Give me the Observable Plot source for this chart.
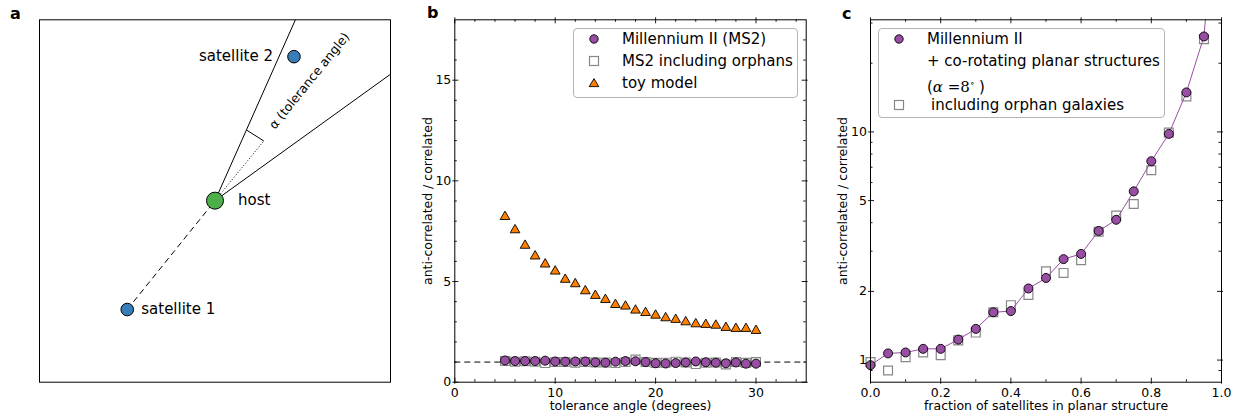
<!DOCTYPE html>
<html><head><meta charset="utf-8">
<script src="https://cdn.jsdelivr.net/npm/d3@7"></script>
<script src="https://cdn.jsdelivr.net/npm/@observablehq/plot@0.6"></script>
<style>
body{margin:0;background:#fff;font-family:"DejaVu Sans",sans-serif;color:#000;}
#wrap{position:relative;width:1242px;height:417px;overflow:hidden;background:#fff;}
.panel{position:absolute;top:0;}
.plabel{position:absolute;font-weight:bold;font-size:16px;line-height:16px;}
.legend{position:absolute;background:rgba(255,255,255,0.85);border:1px solid #b4b4b4;border-radius:4px;box-sizing:border-box;font-size:15px;}
.row{position:absolute;height:22px;line-height:22px;white-space:nowrap;}
.mk{position:absolute;}
</style></head>
<body><div id="wrap"></div>
<script>
// ---------- Panel a: schematic (diagram units) ----------
const hostPos = [5.0, 5.17];
const sat1Pos = [2.5, 2.07];
const sat2Pos = [7.25, 9.27];
const coneEnds = [[7.29, 10.32], [10.0, 8.77]];
const arcEnds = [[5.9, 7.18], [6.39, 6.87]];
const alphaLabelPos = [7.69, 8.58];
const aLabels = ["satellite 1", "satellite 2", "host", "α (tolerance angle)"];

// ---------- Panel b ----------
const angles = [5,6,7,8,9,10,11,12,13,14,15,16,17,18,19,20,21,22,23,24,25,26,27,28,29,30];
const ms2Ratio = [1.08,1.05,1.05,1.05,1.07,1.03,1.02,1.03,1.03,0.99,0.97,1.02,1.05,1.04,1.00,0.94,0.93,0.95,0.98,1.03,0.99,0.97,0.94,0.98,0.92,0.92];
const orphanRatio = [1.05,1.02,1.04,1.02,0.95,1.00,1.00,0.97,1.00,0.98,0.98,0.95,1.00,1.12,1.00,0.96,0.97,1.02,0.98,0.90,0.97,0.98,0.88,1.00,0.96,1.00];
const toyRatio = [8.22,7.56,6.79,6.26,5.86,5.51,5.10,4.88,4.53,4.30,4.10,3.85,3.77,3.57,3.45,3.32,3.19,3.11,2.99,2.89,2.86,2.82,2.71,2.66,2.66,2.56];
const bXMajor = [0,10,20,30];
const bXMinor = [2,4,6,8,12,14,16,18,22,24,26,28,32,34];
const bYMajor = [0,5,10,15];
const bYMinor = [1,2,3,4,6,7,8,9,11,12,13,14,16,17];
const bLegend = ["Millennium II (MS2)", "MS2 including orphans", "toy model"];

// ---------- Panel c ----------
const fractions = [0,0.05,0.1,0.15,0.2,0.25,0.3,0.35,0.4,0.45,0.5,0.55,0.6,0.65,0.7,0.75,0.8,0.85,0.9,0.95];
const planarMS2 = [0.95,1.07,1.08,1.12,1.12,1.23,1.37,1.62,1.64,2.06,2.29,2.77,2.92,3.68,4.12,5.49,7.44,9.80,14.9,26.2];
const planarOrphans = [0.98,0.90,1.03,1.08,1.05,1.22,1.32,1.62,1.74,1.93,2.45,2.41,2.74,3.65,4.30,4.83,6.79,9.93,14.3,25.5];
const curveTailX = 1.0;
const curveTailY = 200;
const cXMajor = [0,0.2,0.4,0.6,0.8,1.0];
const cXMinor = [0.1,0.3,0.5,0.7,0.9];
const cYMajor = [1,2,5,10];
const cYMinor = [0.9,3,4,6,7,8,9,20,30];

const PURPLE = "#984ea3", ORANGE = "#ff7f00", GREEN = "#4daf4a", BLUE = "#377eb8";
const TICKFS = 12.5, LABELFS = 12.5;
const wrap = document.getElementById("wrap");
const baseStyle = {fontFamily: "DejaVu Sans", fontSize: "12.5px", background: "transparent", color: "#000", overflow: "visible"};

function place(el, left) {
  const d = document.createElement("div");
  d.className = "panel"; d.style.left = left + "px";
  d.appendChild(el); wrap.appendChild(d);
}

function tickMarks(xMaj, xMin, yMaj, yMin, W, H) {
  const o = 2, li = 4, mi = 2.5, s = {stroke: "#000", strokeWidth: 0.9};
  return [
    Plot.ruleY(yMaj, {...s, insetLeft: -o, insetRight: W - li}),
    Plot.ruleY(yMaj, {...s, insetLeft: W - li, insetRight: -o}),
    Plot.ruleY(yMin, {...s, insetRight: W - mi}),
    Plot.ruleY(yMin, {...s, insetLeft: W - mi}),
    Plot.ruleX(xMaj, {...s, insetTop: H - li, insetBottom: -o}),
    Plot.ruleX(xMaj, {...s, insetTop: -o, insetBottom: H - li}),
    Plot.ruleX(xMin, {...s, insetTop: H - mi}),
    Plot.ruleX(xMin, {...s, insetBottom: H - mi})
  ];
}

// ---- Panel a ----
const host = {x: hostPos[0], y: hostPos[1]};
const sats = [{x: sat1Pos[0], y: sat1Pos[1], name: aLabels[0]},
              {x: sat2Pos[0], y: sat2Pos[1], name: aLabels[1]}];
const aPlot = Plot.plot({
  width: 400, height: 417, marginLeft: 39, marginRight: 10, marginTop: 19.3, marginBottom: 35.3,
  x: {domain: [0, 10], axis: null}, y: {domain: [0, 10.32], axis: null},
  style: baseStyle,
  marks: [
    Plot.link(coneEnds, {x1: () => host.x, y1: () => host.y, x2: d => d[0], y2: d => d[1], stroke: "#000", strokeWidth: 1}),
    Plot.link([sat1Pos], {x1: d => d[0], y1: d => d[1], x2: () => host.x, y2: () => host.y, stroke: "#000", strokeWidth: 1, strokeDasharray: "6,4"}),
    Plot.link([arcEnds[1]], {x1: () => host.x, y1: () => host.y, x2: d => d[0], y2: d => d[1], stroke: "#000", strokeWidth: 1, strokeDasharray: "1,2"}),
    Plot.link([arcEnds], {x1: d => d[0][0], y1: d => d[0][1], x2: d => d[1][0], y2: d => d[1][1], stroke: "#000", strokeWidth: 1}),
    Plot.dot(sats, {x: "x", y: "y", r: 6.3, fill: BLUE, stroke: "#000", strokeWidth: 1}),
    Plot.dot([host], {x: "x", y: "y", r: 8.5, fill: GREEN, stroke: "#000", strokeWidth: 1}),
    Plot.text([sats[0]], {x: "x", y: "y", text: "name", dx: 14, textAnchor: "start", fontSize: 15}),
    Plot.text([sats[1]], {x: "x", y: "y", text: "name", dx: -21, textAnchor: "end", fontSize: 15}),
    Plot.text([host], {x: "x", y: "y", text: () => aLabels[2], dx: 23, textAnchor: "start", fontSize: 15}),
    Plot.text([alphaLabelPos], {x: d => d[0], y: d => d[1], text: () => aLabels[3], rotate: -51, fontSize: 12.5}),
    Plot.frame({stroke: "#000", strokeWidth: 1})
  ]
});
place(aPlot, 0);

// ---- Panel b ----
const bData = angles.map((a, i) => ({angle: a, ms2: ms2Ratio[i], orph: orphanRatio[i], toy: toyRatio[i]}));
const bW = 351.4, bH = 362.4;
const bPlot = Plot.plot({
  width: 415, height: 417, marginLeft: 54.3, marginRight: 9.3, marginTop: 19.3, marginBottom: 35.3,
  x: {domain: [0, 35]}, y: {domain: [0, 18]},
  style: baseStyle,
  marks: [
    ...tickMarks(bXMajor, bXMinor, bYMajor, bYMinor, bW, bH),
    Plot.ruleY([1], {stroke: "#000", strokeWidth: 1, strokeDasharray: "6,4"}),
    Plot.dot(bData, {x: "angle", y: "orph", symbol: "square", r: 5, fill: "white", stroke: "#888", strokeWidth: 1.2}),
    Plot.dot(bData, {x: "angle", y: "ms2", r: 4.5, fill: PURPLE, stroke: "#000", strokeWidth: 0.9}),
    Plot.dot(bData, {x: "angle", y: "toy", symbol: "triangle", r: 3.6, fill: ORANGE, stroke: "#000", strokeWidth: 0.9}),
    Plot.axisX({ticks: bXMajor, tickSize: 0, tickPadding: 5.5, label: null, fontSize: TICKFS}),
    Plot.axisY({ticks: bYMajor, tickSize: 0, tickPadding: 3.5, label: null, fontSize: TICKFS}),
    Plot.text(["tolerance angle (degrees)"], {text: d => d, frameAnchor: "bottom", dy: 23.5, textAnchor: "middle", lineAnchor: "middle", fontSize: LABELFS}),
    Plot.text(["anti-correlated / correlated"], {text: d => d, frameAnchor: "left", dx: -27, rotate: -90, textAnchor: "middle", lineAnchor: "middle", fontSize: LABELFS}),
    Plot.frame({stroke: "#000", strokeWidth: 1})
  ]
});
place(bPlot, 400);

// ---- Panel c ----
const cData = fractions.map((f, i) => ({f, ms2: planarMS2[i], orph: planarOrphans[i]}));
const cLine = [...cData.map(d => ({f: d.f, v: d.ms2})), {f: curveTailX, v: curveTailY}];
const cW = 351, cH = 362.4;
const cPlot = Plot.plot({
  width: 427, height: 417, marginLeft: 55, marginRight: 21, marginTop: 19.3, marginBottom: 35.3,
  x: {domain: [0, 1]}, y: {type: "log", domain: [0.8, 31]},
  style: baseStyle,
  marks: [
    ...tickMarks(cXMajor, cXMinor, cYMajor, cYMinor, cW, cH),
    Plot.dot(cData, {x: "f", y: "orph", symbol: "square", r: 5, fill: "white", stroke: "#888", strokeWidth: 1.2}),
    Plot.line(cLine, {x: "f", y: "v", stroke: PURPLE, strokeWidth: 1, clip: true}),
    Plot.dot(cData, {x: "f", y: "ms2", r: 4.5, fill: PURPLE, stroke: "#000", strokeWidth: 0.9}),
    Plot.axisX({ticks: cXMajor, tickFormat: d3.format(".1f"), tickSize: 0, tickPadding: 5.5, label: null, fontSize: TICKFS}),
    Plot.axisY({ticks: cYMajor, tickFormat: d => String(d), tickSize: 0, tickPadding: 3.5, label: null, fontSize: TICKFS}),
    Plot.text(["fraction of satellites in planar structure"], {text: d => d, frameAnchor: "bottom", dy: 23.5, textAnchor: "middle", lineAnchor: "middle", fontSize: LABELFS}),
    Plot.text(["anti-correlated / correlated"], {text: d => d, frameAnchor: "left", dx: -28, rotate: -90, textAnchor: "middle", lineAnchor: "middle", fontSize: LABELFS}),
    Plot.frame({stroke: "#000", strokeWidth: 1})
  ]
});
place(cPlot, 815);

// ---- Panel letters ----
[["a", 10, 6], ["b", 427, 5], ["c", 842, 6]].forEach(([t, x, y]) => {
  const d = document.createElement("div");
  d.className = "plabel"; d.textContent = t;
  d.style.left = x + "px"; d.style.top = y + "px";
  wrap.appendChild(d);
});

// ---- Legends ----
function markerSVG(kind) {
  const s = {circle: `<circle cx="7" cy="7" r="4.2" fill="${PURPLE}" stroke="#000" stroke-width="0.9"/>`,
             square: `<rect x="2.5" y="2.5" width="9" height="9" fill="white" stroke="#888" stroke-width="1.2"/>`,
             triangle: `<polygon points="7,2.6 11.8,10.6 2.2,10.6" fill="${ORANGE}" stroke="#000" stroke-width="0.9"/>`}[kind];
  return `<svg width="14" height="14" style="display:block">${s}</svg>`;
}
function legend(left, top, w, h, markerX, items) {
  const box = document.createElement("div");
  box.className = "legend";
  Object.assign(box.style, {left: left + "px", top: top + "px", width: w + "px", height: h + "px"});
  items.forEach(it => {
    if (it.marker) {
      const m = document.createElement("div");
      m.className = "mk"; m.innerHTML = markerSVG(it.marker);
      m.style.left = (markerX - left - 1 - 7) + "px"; m.style.top = (it.cy - top - 1 - 7) + "px";
      box.appendChild(m);
    }
    const r = document.createElement("div");
    r.className = "row"; r.innerHTML = it.html;
    r.style.left = (it.tx - left - 1) + "px"; r.style.top = (it.cy - top - 1 - 11) + "px";
    box.appendChild(r);
  });
  wrap.appendChild(box);
}
legend(573, 28, 225, 70, 594, [
  {marker: "circle", html: bLegend[0], cy: 39, tx: 622},
  {marker: "square", html: bLegend[1], cy: 61, tx: 622},
  {marker: "triangle", html: bLegend[2], cy: 83, tx: 622}
]);
legend(878, 28, 287, 90, 899, [
  {marker: "circle", html: "Millennium II", cy: 39, tx: 927},
  {html: "+ co-rotating planar structures", cy: 61, tx: 927},
  {html: "(<span style=\"font-family:'DejaVu Serif';font-style:italic\">α</span><span style=\"font-family:'DejaVu Serif'\"> =8<sup style=\"font-size:9px\">∘</sup></span> )", cy: 83, tx: 927},
  {marker: "square", html: "including orphan galaxies", cy: 105, tx: 931}
]);
</script>
</body></html>
